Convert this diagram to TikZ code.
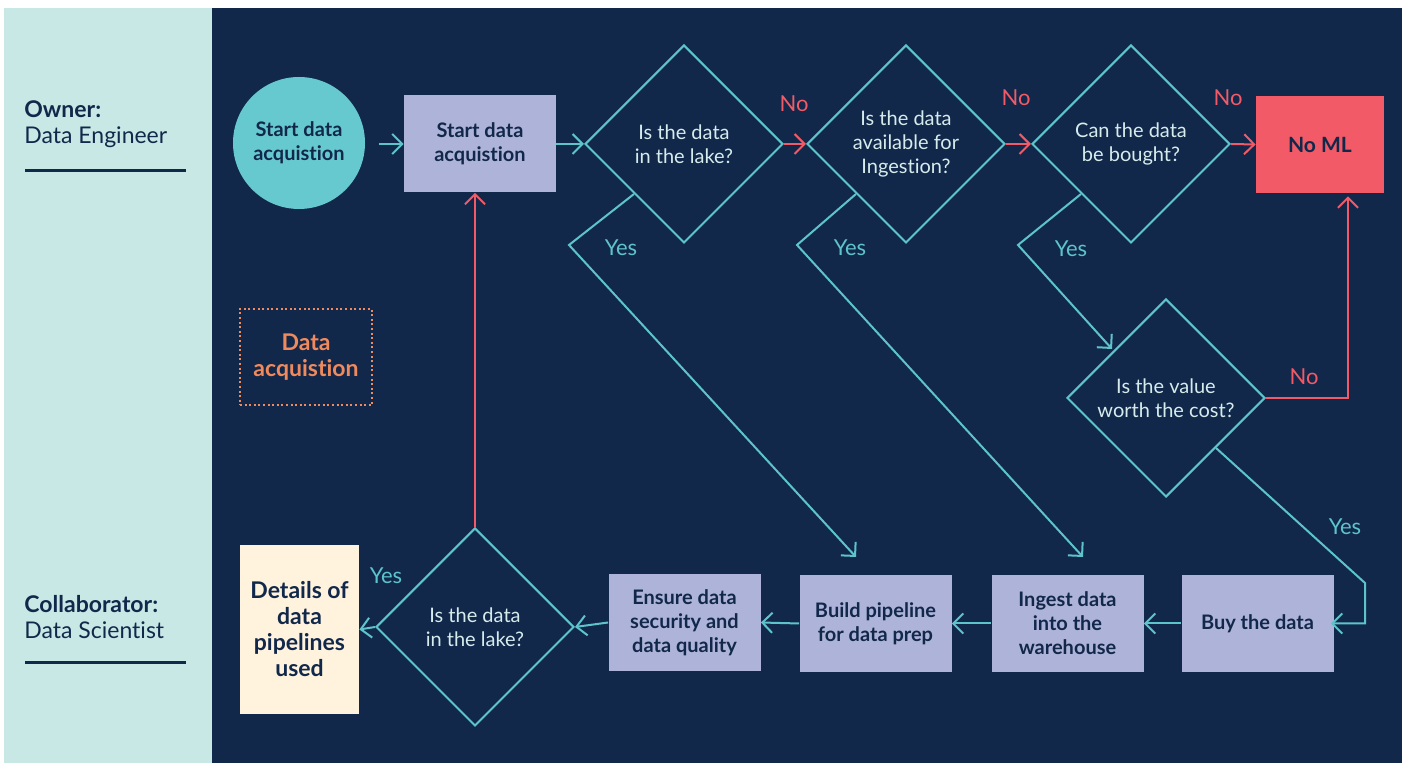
\documentclass[tikz,border=0pt]{standalone}
\usepackage{fontspec}
\setmainfont{Lato}[Ligatures={NoCommon}]
\usetikzlibrary{shapes.geometric,arrows.meta}
\definecolor{navy}{HTML}{12284B}
\definecolor{panel}{HTML}{C8E8E6}
\definecolor{tealc}{HTML}{5EC4CB}
\definecolor{circ}{HTML}{66C9D0}
\definecolor{lav}{HTML}{AEB3D9}
\definecolor{redc}{HTML}{F15A66}
\definecolor{orng}{HTML}{F08A5D}
\definecolor{cream}{HTML}{FFF3DE}
\definecolor{dtext}{HTML}{D6ECEC}
\begin{document}
\begin{tikzpicture}[x=0.5pt,y=-0.5pt,
  proc/.style={fill=lav, text=navy, font=\bfseries\fontsize{10}{12}\selectfont, align=center, inner sep=0pt, minimum width=76pt, minimum height=48.5pt},
  dec/.style={diamond, draw=tealc, line width=1pt, text=dtext, font=\fontsize{10}{12}\selectfont, align=center, minimum width=99pt, minimum height=99pt, inner sep=0pt},
  ar/.style={-{Straight Barb[length=5pt,width=10pt]}, line width=1pt, draw=tealc},
  arr/.style={ar, draw=redc},
  yeslbl/.style={text=tealc, font=\fontsize{11}{12}\selectfont},
  nolbl/.style={text=redc, font=\fontsize{11}{12}\selectfont},
  rolelbl/.style={text=navy, anchor=west, align=left, inner sep=0pt, font=\fontsize{11.5}{13}\selectfont},
  rule/.style={draw=navy, line width=1.5pt}]
% background
\useasboundingbox (0,0) rectangle (1405,763);
\fill[white] (0,0) rectangle (1405,763);
\fill[panel] (4,8) rectangle (212,763);
\fill[navy] (212,8) rectangle (1402,763);
% left panel
\node[rolelbl] (owner) at (24,124) {\textbf{Owner:}\\Data Engineer};
\draw[rule] (25,171) -- (186,171);
\node[rolelbl] (collab) at (24,617) {\textbf{Collaborator:}\\Data Scientist};
\draw[rule] (25,663) -- (186,663);
% nodes
\node[circle, fill=circ, text=navy, minimum size=66pt, inner sep=0pt, align=center, font=\bfseries\fontsize{10}{12}\selectfont] (start) at (299,143) {Start data\\acquistion};
\node[proc] (box1) at (480,144) {Start data\\acquistion};
\node[dec] (d1) at (684,144) {Is the data\\in the lake?};
\node[dec] (d2) at (906,144) {Is the data\\available for\\Ingestion?};
\node[dec] (d3) at (1131,144) {Can the data\\be bought?};
\node[fill=redc, text=navy, minimum width=64pt, minimum height=48.5pt, inner sep=0pt, font=\bfseries\fontsize{10.5}{12}\selectfont] (noml) at (1320,144.5) {No ML};
\node[dec] (d4) at (1166,398) {Is the value\\worth the cost?};
\node[draw=orng, line width=1pt, dash pattern=on 1pt off 1.3pt, text=orng, minimum width=66pt, minimum height=48pt, inner sep=0pt, align=center, font=\bfseries\fontsize{11.5}{13}\selectfont] (dacq) at (306,357) {Data\\acquistion};
\node[proc] (buy) at (1257.5,623.5) {Buy the data};
\node[proc] (ingest) at (1067.5,623.5) {Ingest data\\into the\\warehouse};
\node[proc] (build) at (875.5,623.5) {Build pipeline\\for data prep};
\node[proc] (ensure) at (684.5,622.5) {Ensure data\\security and\\data quality};
\node[dec] (d5) at (475,627) {Is the data\\in the lake?};
\node[fill=cream, text=navy, minimum width=59.5pt, minimum height=84.5pt, inner sep=0pt, align=center, font=\bfseries\fontsize{11.5}{13}\selectfont] (details) at (299.5,629.5) {Details of\\data\\pipelines\\used};
% coordinates
\coordinate (y1c) at (569,245);
\coordinate (y1e) at (856,557);
\coordinate (y2c) at (797,245);
\coordinate (y2e) at (1083,557);
\coordinate (y3c) at (1018,245);
\coordinate (y3e) at (1112,349);
\coordinate (y4c) at (1365,583);
\coordinate (n4c) at (1348,398);
% top row connectors
\draw[ar, shorten <=7pt] (start.east |- box1.west) -- (box1.west);
\draw[ar] (box1.east) -- (d1.west);
\draw[arr] (d1.east) -- (d2.west);
\draw[arr] (d2.east) -- (d3.west);
\draw[arr] (d3.east) -- (noml.west);
\draw[arr, shorten >=1.5pt] (d4.east) -- (n4c) -- (n4c |- noml.south);
% yes paths
\draw[ar] (d1.south west) -- (y1c) -- (y1e);
\draw[ar] (d2.south west) -- (y2c) -- (y2e);
\draw[ar] (d3.south west) -- (y3c) -- (y3e);
\draw[ar, shorten >=-1.5pt] (d4.south east) -- (y4c) |- (buy.east);
% bottom row
\draw[ar] (buy.west) -- (ingest.east);
\draw[ar] (ingest.west) -- (build.east);
\draw[ar] (build.west) -- (ensure.east);
\draw[ar] (ensure.west) -- (d5.east);
\draw[ar] (d5.west) -- (details.east);
\draw[arr] (d5.north) -- (d5.north |- box1.south);
% labels
\node[nolbl] (no1) at (794,104) {No};
\node[nolbl] (no2) at (1016,98) {No};
\node[nolbl] (no3) at (1228,98) {No};
\node[nolbl] (no4) at (1304,377) {No};
\node[yeslbl] (yes1) at (621,248) {Yes};
\node[yeslbl] (yes2) at (850,248) {Yes};
\node[yeslbl] (yes3) at (1071,249) {Yes};
\node[yeslbl] (yes4) at (1345,527) {Yes};
\node[yeslbl] (yes5) at (386,576) {Yes};
\end{tikzpicture}
\end{document}
